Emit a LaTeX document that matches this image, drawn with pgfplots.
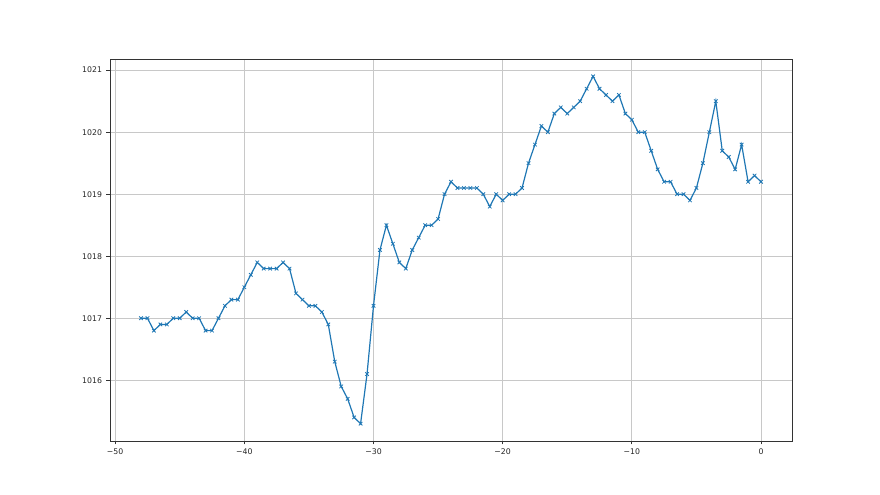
\documentclass[border=0pt]{standalone}
\usepackage{fontspec}
\setmainfont{DejaVu Sans}
\usepackage{pgfplots}
\pgfplotsset{compat=1.18}
\usepackage{pgfplotstable}
\definecolor{mplblue}{HTML}{1F77B4}
\definecolor{mplgrid}{HTML}{C8C8C8}
\pgfplotstableread{
x y
-48.0 1017.0
-47.5 1017.0
-47.0 1016.8
-46.5 1016.9
-46.0 1016.9
-45.5 1017.0
-45.0 1017.0
-44.5 1017.1
-44.0 1017.0
-43.5 1017.0
-43.0 1016.8
-42.5 1016.8
-42.0 1017.0
-41.5 1017.2
-41.0 1017.3
-40.5 1017.3
-40.0 1017.5
-39.5 1017.7
-39.0 1017.9
-38.5 1017.8
-38.0 1017.8
-37.5 1017.8
-37.0 1017.9
-36.5 1017.8
-36.0 1017.4
-35.5 1017.3
-35.0 1017.2
-34.5 1017.2
-34.0 1017.1
-33.5 1016.9
-33.0 1016.3
-32.5 1015.9
-32.0 1015.7
-31.5 1015.4
-31.0 1015.3
-30.5 1016.1
-30.0 1017.2
-29.5 1018.1
-29.0 1018.5
-28.5 1018.2
-28.0 1017.9
-27.5 1017.8
-27.0 1018.1
-26.5 1018.3
-26.0 1018.5
-25.5 1018.5
-25.0 1018.6
-24.5 1019.0
-24.0 1019.2
-23.5 1019.1
-23.0 1019.1
-22.5 1019.1
-22.0 1019.1
-21.5 1019.0
-21.0 1018.8
-20.5 1019.0
-20.0 1018.9
-19.5 1019.0
-19.0 1019.0
-18.5 1019.1
-18.0 1019.5
-17.5 1019.8
-17.0 1020.1
-16.5 1020.0
-16.0 1020.3
-15.5 1020.4
-15.0 1020.3
-14.5 1020.4
-14.0 1020.5
-13.5 1020.7
-13.0 1020.9
-12.5 1020.7
-12.0 1020.6
-11.5 1020.5
-11.0 1020.6
-10.5 1020.3
-10.0 1020.2
-9.5 1020.0
-9.0 1020.0
-8.5 1019.7
-8.0 1019.4
-7.5 1019.2
-7.0 1019.2
-6.5 1019.0
-6.0 1019.0
-5.5 1018.9
-5.0 1019.1
-4.5 1019.5
-4.0 1020.0
-3.5 1020.5
-3.0 1019.7
-2.5 1019.6
-2.0 1019.4
-1.5 1019.8
-1.0 1019.2
-0.5 1019.3
0.0 1019.2
}\datatable
\begin{document}
\begin{tikzpicture}
\path[use as bounding box] (-110bp,-54bp) rectangle (770bp,441bp);
\begin{axis}[
  at={(0,0)}, anchor=south west,
  scale only axis,
  width=682bp, height=382bp,
  xmin=-50.4, xmax=2.4,
  ymin=1015.02, ymax=1021.18,
  xtick={-50,-40,-30,-20,-10,0},
  xticklabels={−50,−40,−30,−20,−10,0},
  ytick={1016,1017,1018,1019,1020,1021},
  /pgf/number format/assume math mode=true,
  /pgf/number format/1000 sep={},
  grid=major,
  major grid style={draw=mplgrid, line width=0.8bp},
  axis line style={black!80, line width=0.8bp},
  tick style={black!80, line width=0.8bp},
  tick align=outside,
  major tick length=3.5bp,
  xtick pos=bottom, ytick pos=left,
  tick label style={font=\fontsize{7.8}{9}\selectfont, text=black!85},
  xticklabel style={yshift=-1bp},
  yticklabel style={xshift=-1bp},
]
\addplot[color=mplblue, line width=1.2bp, mark=x, mark size=2.5bp,
  mark options={line width=0.8bp}] table[x=x, y=y] {\datatable};
\end{axis}
\end{tikzpicture}
\end{document}
